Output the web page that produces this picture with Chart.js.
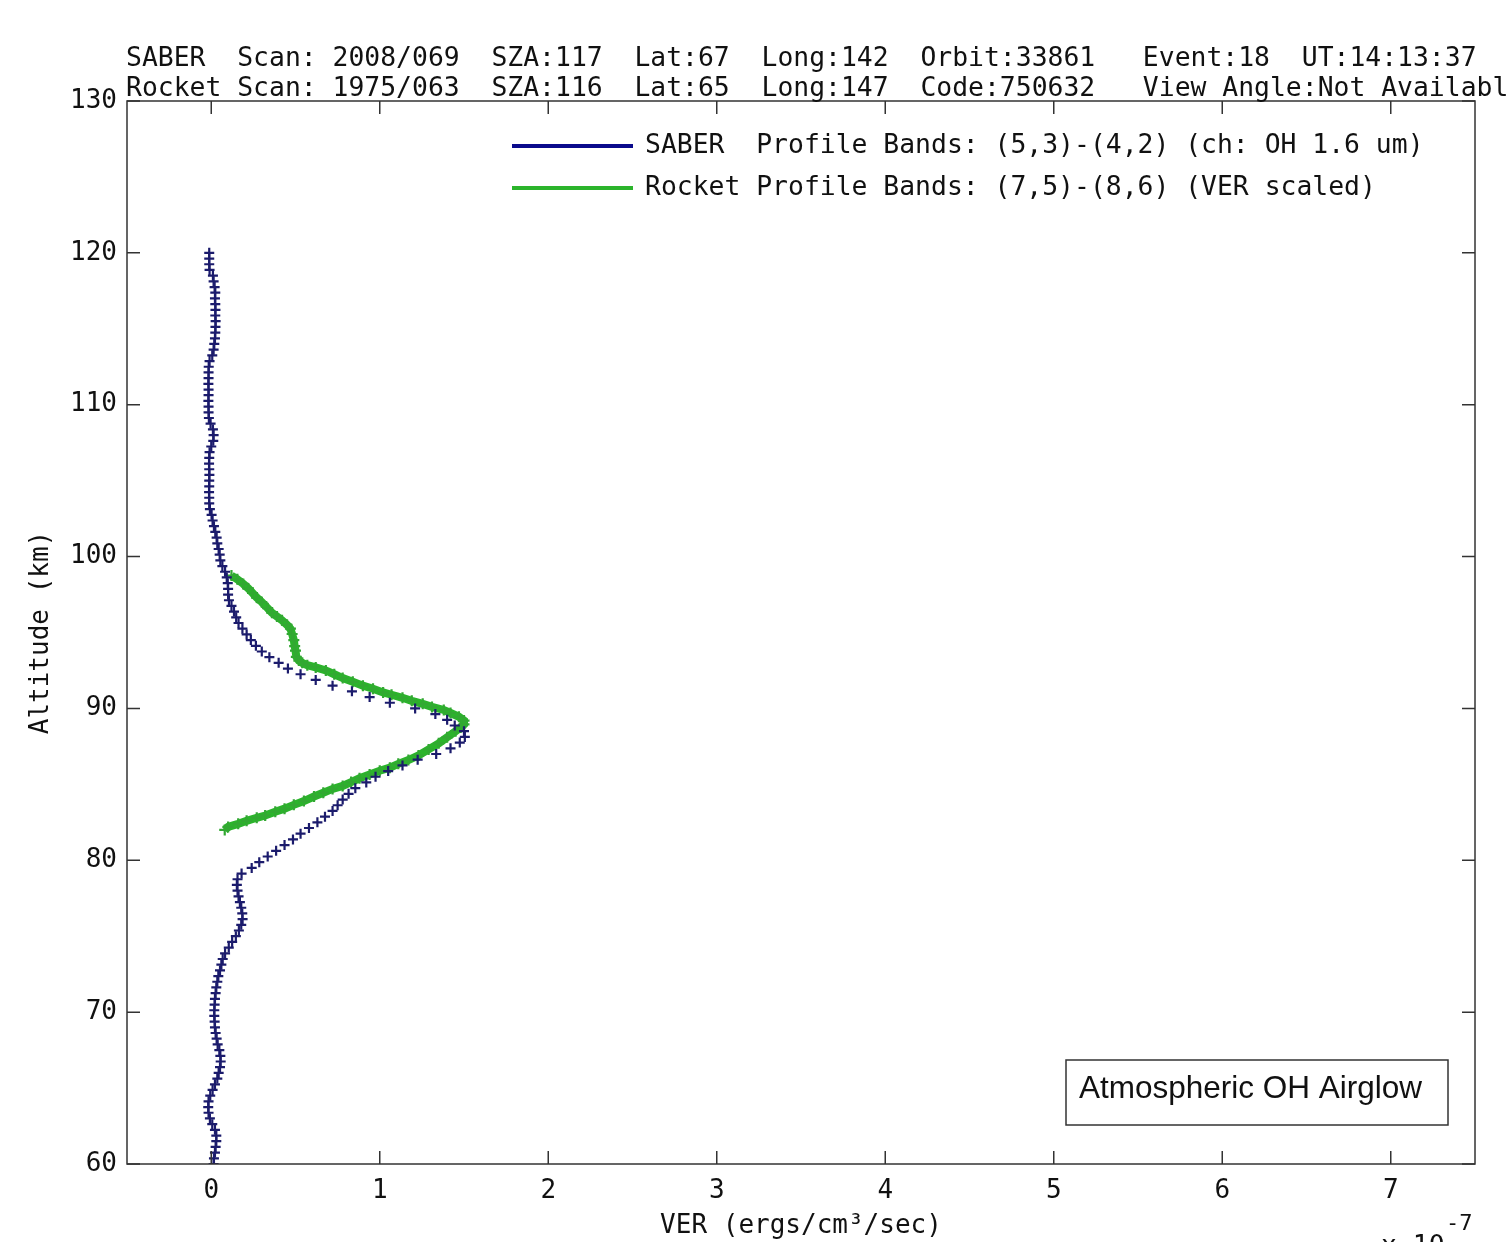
<!DOCTYPE html>
<html lang="en">

<head>
    <meta charset="UTF-8">
    <title>SABER vs Rocket OH airglow</title>
    <script src="https://cdn.jsdelivr.net/npm/chart.js"></script>
    <style>
        body { margin: 0; background: #fff; }
    </style>
</head>

<body>
    <div style="width: 1509px; height: 1242px;">
        <canvas id="myChart"></canvas>
    </div>
    <script>
        // values are in units of 1e-7 ergs/cm3/sec
        const saberAlt = [
            60, 60.375, 60.75, 61.125, 61.5, 61.875, 62.25, 62.625,
            63, 63.375, 63.75, 64.125, 64.5, 64.875, 65.25, 65.625,
            66, 66.375, 66.75, 67.125, 67.5, 67.875, 68.25, 68.625,
            69, 69.375, 69.75, 70.125, 70.5, 70.875, 71.25, 71.625,
            72, 72.375, 72.75, 73.125, 73.5, 73.875, 74.25, 74.625,
            75, 75.375, 75.75, 76.125, 76.5, 76.875, 77.25, 77.625,
            78, 78.375, 78.75, 79.125, 79.5, 79.875, 80.25, 80.625,
            81, 81.375, 81.75, 82.125, 82.5, 82.875, 83.25, 83.625,
            84, 84.375, 84.75, 85.125, 85.5, 85.875, 86.25, 86.625,
            87, 87.375, 87.75, 88.125, 88.5, 88.875, 89.25, 89.625,
            90, 90.375, 90.75, 91.125, 91.5, 91.875, 92.25, 92.625,
            93, 93.375, 93.75, 94.125, 94.5, 94.875, 95.25, 95.625,
            96, 96.375, 96.75, 97.125, 97.5, 97.875, 98.25, 98.625,
            99, 99.375, 99.75, 100.125, 100.5, 100.875, 101.25, 101.625,
            102, 102.375, 102.75, 103.125, 103.5, 103.875, 104.25, 104.625,
            105, 105.375, 105.75, 106.125, 106.5, 106.875, 107.25, 107.625,
            108, 108.375, 108.75, 109.125, 109.5, 109.875, 110.25, 110.625,
            111, 111.375, 111.75, 112.125, 112.5, 112.875, 113.25, 113.625,
            114, 114.375, 114.75, 115.125, 115.5, 115.875, 116.25, 116.625,
            117, 117.375, 117.75, 118.125, 118.5, 118.875, 119.25, 119.625,
            120
        ];
        const saberVer = [
            0.014, 0.016, 0.022, 0.026, 0.030, 0.030, 0.022, 0.006,
            -0.008, -0.016, -0.018, -0.016, -0.006, 0.008, 0.022, 0.036,
            0.044, 0.052, 0.056, 0.054, 0.048, 0.038, 0.032, 0.026,
            0.022, 0.020, 0.018, 0.018, 0.020, 0.022, 0.026, 0.030,
            0.036, 0.042, 0.052, 0.060, 0.068, 0.082, 0.104, 0.124,
            0.146, 0.164, 0.178, 0.186, 0.184, 0.178, 0.170, 0.162,
            0.156, 0.152, 0.156, 0.180, 0.240, 0.285, 0.335, 0.385,
            0.435, 0.485, 0.530, 0.580, 0.630, 0.675, 0.720, 0.750,
            0.780, 0.815, 0.855, 0.920, 0.975, 1.050, 1.135, 1.225,
            1.335, 1.420, 1.475, 1.505, 1.500, 1.445, 1.400, 1.330,
            1.210, 1.060, 0.940, 0.835, 0.720, 0.620, 0.530, 0.455,
            0.400, 0.345, 0.300, 0.265, 0.235, 0.210, 0.185, 0.162,
            0.148, 0.135, 0.120, 0.105, 0.100, 0.100, 0.098, 0.092,
            0.082, 0.066, 0.054, 0.050, 0.044, 0.036, 0.032, 0.024,
            0.016, 0.008, 0.002, -0.008, -0.012, -0.012, -0.013, -0.012,
            -0.012, -0.011, -0.012, -0.013, -0.012, -0.010, 0.000, 0.012,
            0.014, 0.010, -0.004, -0.014, -0.016, -0.016, -0.017, -0.016,
            -0.016, -0.017, -0.016, -0.016, -0.015, -0.010, 0.006, 0.014,
            0.018, 0.022, 0.024, 0.025, 0.026, 0.024, 0.025, 0.024,
            0.022, 0.024, 0.020, 0.014, 0.010, -0.010, -0.012, -0.012,
            -0.012
        ];
        const rocketAlt = [
            82.0, 82.2, 82.4, 82.6, 82.8, 82.95, 83.2, 83.4, 83.65, 83.9,
            84.2, 84.45, 84.7, 84.9, 85.15, 85.4, 85.65, 85.9, 86.1, 86.35,
            86.6, 86.9, 87.3, 87.7, 88.1, 88.5, 88.75, 88.95, 89.2, 89.45,
            89.7, 89.9, 90.1, 90.3, 90.5, 90.7, 90.9, 91.05, 91.3, 91.5,
            91.75, 92.0, 92.25, 92.5, 92.7, 92.85, 93.0, 93.15, 93.4, 93.8,
            94.1, 94.5, 94.9, 95.25, 95.5, 95.8, 96.05, 96.3, 96.6, 97.0,
            97.3, 97.6, 97.9, 98.2, 98.5, 98.75
        ];
        const rocketVer = [
            0.08, 0.10, 0.16, 0.21, 0.27, 0.32, 0.38, 0.435, 0.49, 0.55,
            0.61, 0.665, 0.72, 0.78, 0.83, 0.88, 0.94, 1.00, 1.06, 1.11,
            1.17, 1.23, 1.29, 1.35, 1.40, 1.45, 1.48, 1.50, 1.50, 1.47,
            1.42, 1.38, 1.31, 1.255, 1.19, 1.135, 1.07, 1.02, 0.96, 0.90,
            0.84, 0.78, 0.73, 0.68, 0.62, 0.57, 0.54, 0.52, 0.505, 0.50,
            0.495, 0.49, 0.48, 0.47, 0.45, 0.42, 0.39, 0.36, 0.335, 0.30,
            0.27, 0.245, 0.22, 0.19, 0.155, 0.12
        ];
        const xTicks = [0, 1, 2, 3, 4, 5, 6, 7];
        const yTicks = [60, 70, 80, 90, 100, 110, 120, 130];
        const headerLines = [
            'SABER  Scan: 2008/069  SZA:117  Lat:67  Long:142  Orbit:33861   Event:18  UT:14:13:37',
            'Rocket Scan: 1975/063  SZA:116  Lat:65  Long:147  Code:750632   View Angle:Not Available'
        ];
        const legendLabels = [
            'SABER  Profile Bands: (5,3)-(4,2) (ch: OH 1.6 um)',
            'Rocket Profile Bands: (7,5)-(8,6) (VER scaled)'
        ];

        const NAVY = '#1b1b6c';
        const NAVY_LINE = '#0a0a8c';
        const GREEN = '#2bb42b';
        const MONO = '"DejaVu Sans Mono", monospace';

        function toPoints(xs, ys) {
            return xs.map((v, i) => ({ x: v, y: ys[i] }));
        }

        // frame, inward ticks, header, legend and annotation box
        const decorPlugin = {
            id: 'decor',
            afterDatasetsDraw(chart) {
                const ctx = chart.ctx;
                const a = chart.chartArea;
                const xs = chart.scales.x, ys = chart.scales.y;
                ctx.save();
                ctx.strokeStyle = '#333';
                ctx.lineWidth = 1.5;
                ctx.strokeRect(a.left, a.top, a.right - a.left, a.bottom - a.top);
                ctx.beginPath();
                xTicks.forEach(t => {
                    const px = xs.getPixelForValue(t);
                    ctx.moveTo(px, a.bottom); ctx.lineTo(px, a.bottom - 13);
                    ctx.moveTo(px, a.top); ctx.lineTo(px, a.top + 13);
                });
                yTicks.forEach(t => {
                    const py = ys.getPixelForValue(t);
                    ctx.moveTo(a.left, py); ctx.lineTo(a.left + 13, py);
                    ctx.moveTo(a.right, py); ctx.lineTo(a.right - 13, py);
                });
                ctx.stroke();

                // header text
                ctx.fillStyle = '#111';
                ctx.font = '26.4px ' + MONO;
                ctx.textAlign = 'left';
                ctx.textBaseline = 'alphabetic';
                ctx.fillText(headerLines[0], 126, 66);
                ctx.fillText(headerLines[1], 126, 96);

                // legend
                const legColors = [NAVY_LINE, GREEN];
                const legY = [146, 188];
                legendLabels.forEach((lab, i) => {
                    ctx.strokeStyle = legColors[i];
                    ctx.lineWidth = 4;
                    ctx.beginPath();
                    ctx.moveTo(512, legY[i]); ctx.lineTo(633, legY[i]);
                    ctx.stroke();
                    ctx.fillStyle = '#111';
                    ctx.textBaseline = 'middle';
                    ctx.fillText(lab, 645, legY[i]);
                });

                // annotation box
                ctx.strokeStyle = '#333';
                ctx.lineWidth = 1.5;
                ctx.fillStyle = '#fff';
                ctx.fillRect(1066, 1060, 382, 65);
                ctx.strokeRect(1066, 1060, 382, 65);
                ctx.fillStyle = '#111';
                ctx.font = '31.5px "Liberation Sans", Arial, sans-serif';
                ctx.textBaseline = 'middle';
                ctx.fillText('Atmospheric OH Airglow', 1079, 1089);

                // exponent label
                ctx.font = '26.4px ' + MONO;
                ctx.textBaseline = 'top';
                ctx.fillText('x 10', 1381, 1234);
                ctx.font = '22px ' + MONO;
                ctx.fillText('-7', 1446, 1213);
                ctx.restore();
            }
        };

        drawChart('myChart');

        function drawChart(tag) {
            new Chart(document.getElementById(tag), {
                type: 'scatter',
                data: {
                    datasets: [{
                        label: 'SABER',
                        data: toPoints(saberVer, saberAlt),
                        showLine: false,
                        pointStyle: 'cross',
                        pointRadius: 5,
                        pointBorderWidth: 2.2,
                        borderColor: NAVY,
                        backgroundColor: NAVY
                    }, {
                        label: 'Rocket',
                        data: toPoints(rocketVer, rocketAlt),
                        showLine: true,
                        borderColor: GREEN,
                        borderWidth: 8,
                        pointStyle: 'cross',
                        pointRadius: 5.5,
                        pointBorderWidth: 2.2,
                        pointBorderColor: '#32a832',
                        backgroundColor: GREEN
                    }]
                },
                options: {
                    responsive: true,
                    maintainAspectRatio: false,
                    animation: false,
                    layout: { padding: { top: 101, right: 34, left: 0, bottom: 0 } },
                    plugins: {
                        legend: { display: false },
                        tooltip: { enabled: false }
                    },
                    scales: {
                        x: {
                            type: 'linear',
                            min: -0.5,
                            max: 7.5,
                            afterBuildTicks: (s) => { s.ticks = xTicks.map(v => ({ value: v })); },
                            afterFit: (s) => { s.height = 78; },
                            grid: { display: false, drawTicks: false },
                            border: { display: false },
                            ticks: {
                                color: '#111',
                                padding: 12,
                                font: { family: MONO, size: 26 }
                            },
                            title: {
                                display: true,
                                text: 'VER (ergs/cm³/sec)',
                                color: '#111',
                                padding: { top: 0, bottom: 0 },
                                font: { family: MONO, size: 26 }
                            }
                        },
                        y: {
                            type: 'linear',
                            min: 60,
                            max: 130,
                            afterBuildTicks: (s) => { s.ticks = yTicks.map(v => ({ value: v })); },
                            afterFit: (s) => { s.width = 127; },
                            grid: { display: false, drawTicks: false },
                            border: { display: false },
                            ticks: {
                                color: '#111',
                                padding: 10,
                                font: { family: MONO, size: 26 }
                            },
                            title: {
                                display: true,
                                text: 'Altitude (km)',
                                color: '#111',
                                padding: { top: 26, bottom: 0 },
                                font: { family: MONO, size: 26 }
                            }
                        }
                    }
                },
                plugins: [decorPlugin]
            });
        }
    </script>
</body>

</html>
